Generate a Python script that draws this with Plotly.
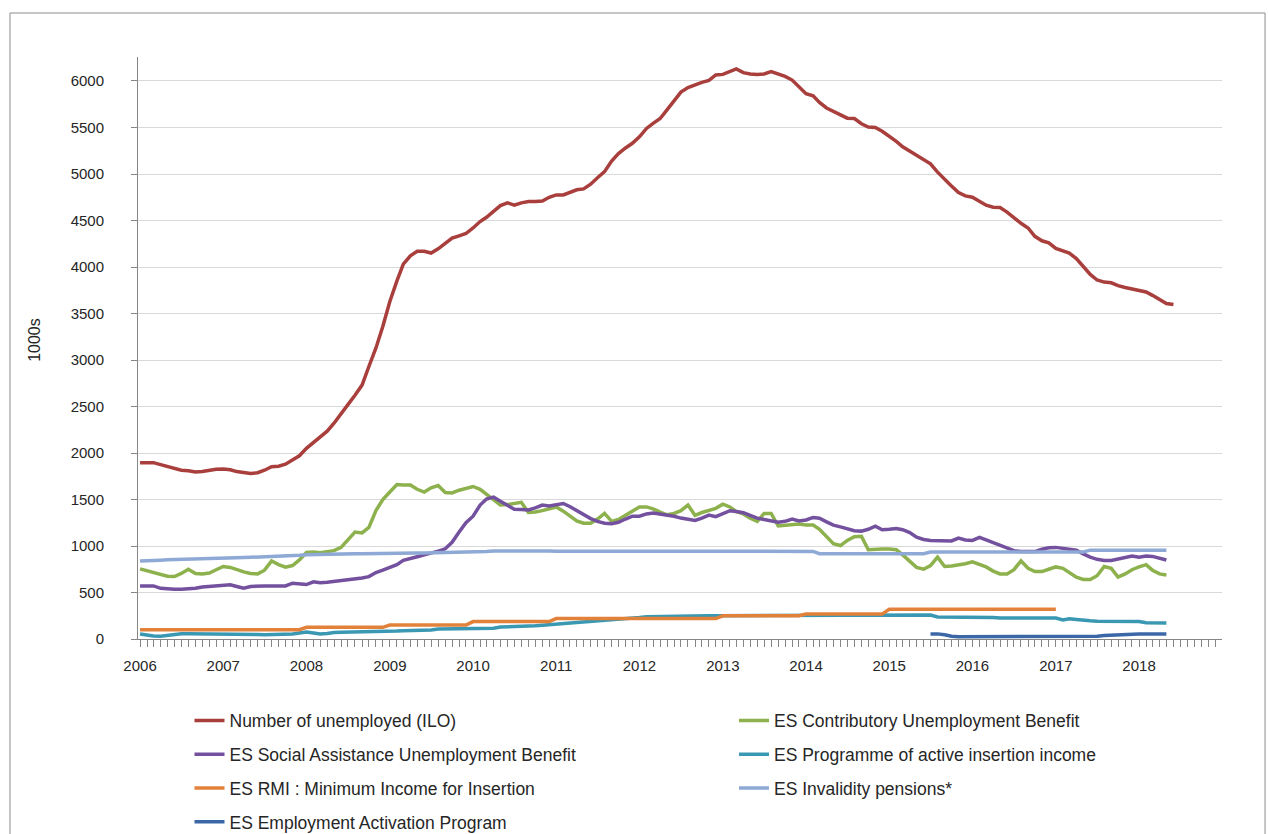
import pandas as pd
import plotly.graph_objects as go

# monthly values in thousands, one row per year
unemployed_ilo = [
    1895, 1896, 1896, 1875, 1853, 1833, 1815, 1810, 1795, 1800, 1815, 1825,
    1828, 1820, 1800, 1792, 1780, 1788, 1815, 1853, 1858, 1880, 1925, 1970,
    2050, 2110, 2170, 2235, 2320, 2415, 2520, 2620, 2730, 2930, 3130, 3360,
    3630, 3850, 4030, 4120, 4170, 4170, 4150, 4195, 4250, 4310, 4335, 4360,
    4420, 4489, 4535, 4600, 4660, 4690, 4665, 4690, 4704, 4704, 4710, 4750,
    4775, 4775, 4800, 4830, 4840, 4890, 4960, 5025, 5140, 5220, 5280, 5330,
    5400, 5490, 5545, 5596, 5690, 5790, 5880, 5930, 5960, 5985, 6007, 6065,
    6071, 6100, 6130, 6090, 6075, 6071, 6075, 6100, 6075, 6050, 6010, 5940,
    5864, 5840, 5770, 5710, 5675, 5635, 5600, 5596, 5540, 5505, 5500, 5460,
    5410, 5350, 5293, 5245, 5200, 5160, 5110, 5020, 4940, 4871, 4800, 4764,
    4750, 4710, 4665, 4643, 4639, 4590, 4530, 4470, 4420, 4330, 4282, 4260,
    4200, 4175, 4150, 4090, 4000, 3920, 3860, 3838, 3830, 3800, 3780, 3765,
    3750, 3732, 3695, 3650, 3607, 3596,
]

contributory = [
    754, 735, 710, 690, 675, 672, 705, 750, 705, 700, 710, 745,
    780, 770, 745, 722, 705, 700, 740, 840, 800, 772, 790, 850,
    930, 935, 928, 935, 950, 985, 1065, 1150, 1140, 1200, 1380, 1500,
    1580, 1660, 1655, 1655, 1610, 1580, 1625, 1650, 1575, 1570, 1600, 1615,
    1640, 1610, 1560, 1500, 1440, 1445, 1455, 1470, 1360, 1365, 1380, 1400,
    1420, 1375, 1320, 1270, 1245, 1245, 1290, 1350, 1265, 1285, 1330, 1375,
    1420, 1420, 1400, 1365, 1335, 1350, 1380, 1440, 1330, 1360, 1380, 1405,
    1450, 1420, 1370, 1345, 1300, 1265, 1350, 1350, 1215, 1220, 1230, 1236,
    1225, 1225, 1180, 1100, 1025, 1005, 1060, 1100, 1105, 960, 968, 968,
    968, 960, 904, 830, 770, 750, 790, 880, 780, 785, 795, 810,
    830, 805, 775, 730, 700, 700, 745, 840, 760, 725, 725, 750,
    775, 760, 710, 665, 640, 640, 680, 780, 760, 665, 700, 745,
    775, 800, 740, 700, 689,
]

social_assistance = [
    571, 571, 571, 545, 536, 536, 536, 536, 545, 560, 564, 568,
    571, 582, 565, 546, 565, 571, 571, 571, 571, 571, 600, 590,
    585, 615, 605, 610, 618, 625, 632, 640, 655, 671, 715, 740,
    765, 800, 845, 870, 885, 905, 921, 945, 970, 1040, 1150, 1250,
    1320, 1440, 1505, 1525, 1480, 1440, 1395, 1393, 1388, 1410, 1440, 1430,
    1440, 1457, 1425, 1380, 1330, 1295, 1265, 1245, 1240, 1255, 1290, 1321,
    1321, 1345, 1355, 1343, 1335, 1320, 1300, 1290, 1275, 1300, 1332, 1315,
    1345, 1379, 1370, 1358, 1330, 1300, 1285, 1270, 1255, 1265, 1290, 1270,
    1280, 1307, 1298, 1260, 1225, 1205, 1185, 1165, 1160, 1180, 1214, 1175,
    1180, 1189, 1175, 1145, 1095, 1070, 1058, 1054, 1054, 1054, 1085, 1065,
    1060, 1093, 1065, 1035, 1000, 970, 950, 940, 939, 940, 965, 980,
    985, 978, 970, 955, 915, 880, 857, 845, 845, 860, 879, 893,
    880, 893, 888, 870, 850,
]

active_insertion = [
    54, 40, 32, 30, 40, 55, 57, 57, 57, 57, 57, 57,
    57, 57, 57, 57, 57, 48, 46, 46, 48, 50, 55, 65,
    75, 65, 54, 60, 71, 72, 73, 74, 75, 75, 75, 75,
    75, 85, 89, 89, 89, 89, 98, 107, 107, 107, 107, 107,
    107, 107, 107, 115, 129, 131, 131, 129, 136, 142, 148, 154,
    158, 162, 164, 172, 182, 188, 195, 200, 205, 207, 212, 220,
    232, 240, 242, 244, 246, 248, 248, 248, 248, 250, 250, 250,
    250, 250, 250, 250, 250, 250, 250, 252, 252, 252, 252, 252,
    252, 252, 252, 252, 252, 257, 257, 257, 257, 257, 257, 257,
    257, 258, 258, 258, 258, 258, 258, 236, 236, 236, 236, 236,
    236, 236, 236, 230, 225, 225, 225, 225, 225, 225, 225, 225,
    225, 205, 218, 210, 200, 195, 190, 189, 189, 189, 189, 189,
    189, 175, 171, 171, 171,
]

rmi = [
    100, 100, 100, 100, 100, 100, 100, 100, 100, 100, 100, 100,
    100, 100, 100, 100, 100, 100, 100, 100, 100, 100, 100, 100,
    125, 125, 125, 125, 125, 125, 125, 125, 125, 125, 125, 125,
    150, 150, 150, 150, 150, 150, 150, 150, 150, 150, 150, 150,
    187, 187, 187, 187, 187, 187, 187, 187, 187, 187, 187, 187,
    220, 220, 220, 220, 220, 220, 220, 220, 220, 220, 220, 220,
    220, 220, 220, 220, 220, 220, 220, 220, 220, 220, 220, 220,
    250, 250, 250, 250, 250, 250, 250, 250, 250, 250, 250, 250,
    268, 268, 268, 268, 268, 268, 268, 268, 268, 268, 268, 268,
    320, 320, 320, 320, 320, 320, 320, 320, 320, 320, 320, 320,
    320, 320, 320, 320, 320, 320, 320, 320, 320, 320, 320, 320,
    320,
]

invalidity = [
    840, 840, 845, 848, 852, 855, 858, 860, 862, 865, 866, 868,
    870, 872, 875, 876, 878, 880, 882, 884, 886, 890, 895, 900,
    905, 908, 910, 912, 914, 915, 916, 917, 918, 920, 920, 921,
    922, 923, 924, 925, 926, 926, 927, 928, 928, 929, 929, 930,
    930, 932, 940, 945, 946, 946, 946, 946, 946, 946, 946, 946,
    944, 944, 944, 944, 944, 944, 944, 944, 944, 944, 944, 944,
    942, 942, 942, 942, 942, 942, 942, 942, 942, 942, 942, 942,
    942, 942, 942, 942, 942, 942, 942, 942, 942, 942, 942, 942,
    942, 942, 918, 918, 918, 918, 918, 918, 918, 918, 918, 918,
    918, 918, 918, 918, 918, 918, 935, 935, 935, 935, 935, 935,
    935, 935, 935, 935, 935, 935, 935, 935, 935, 935, 935, 935,
    935, 935, 935, 935, 935, 955, 955, 955, 955, 955, 955, 955,
    955, 955, 955, 955, 955,
]

# starts July 2015
activation = [
    55, 55, 45, 30, 25, 25,
    25, 25, 25, 25, 25, 25, 25, 25, 25, 25, 25, 25,
    25, 25, 25, 25, 25, 25, 30, 38, 42, 50, 54, 54,
    54, 54, 54, 54, 54,
]

FONT = "Liberation Sans, Arial, sans-serif"
TEXT = "#262626"
AXIS = "#868686"

# drawing order follows the original workbook (later series on top)
series = [
    ("Number of unemployed (ILO)", unemployed_ilo, "2006-01-01", "#A93F3C", "legend"),
    ("ES Contributory Unemployment Benefit", contributory, "2006-01-01", "#8DB14D", "legend2"),
    ("ES Social Assistance Unemployment Benefit", social_assistance, "2006-01-01", "#74519F", "legend"),
    ("ES Programme of active insertion income", active_insertion, "2006-01-01", "#3A98B2", "legend2"),
    ("ES RMI : Minimum Income for Insertion", rmi, "2006-01-01", "#E2813A", "legend"),
    ("ES Invalidity pensions*", invalidity, "2006-01-01", "#8EA9D5", "legend2"),
    ("ES Employment Activation Program", activation, "2015-07-01", "#3B67A6", "legend"),
]

fig = go.Figure()
for name, values, start, color, legend in series:
    dates = pd.date_range(start, periods=len(values), freq="MS")
    fig.add_trace(
        go.Scatter(
            x=dates,
            y=values,
            name=name,
            mode="lines",
            line=dict(color=color, width=3.5),
            legend=legend,
            legendgroup=name,
        )
    )

# legend y is in container coords so the legend doesn't squeeze the plot area
legend_style = dict(
    xref="paper",
    yref="container",
    xanchor="left",
    yanchor="top",
    y=0.1575,
    traceorder="grouped",
    tracegroupgap=8,
    bgcolor="rgba(0,0,0,0)",
    font=dict(family=FONT, size=17.5, color=TEXT),
)

fig.update_layout(
    width=1268,
    height=834,
    margin=dict(l=138, r=46, t=57, b=195),
    paper_bgcolor="white",
    plot_bgcolor="white",
    font=dict(family=FONT, size=15, color=TEXT),
    showlegend=True,
    legend=dict(x=0.0475, **legend_style),
    legend2=dict(x=0.5498, **legend_style),
)

fig.update_xaxes(
    type="date",
    range=["2005-12-23", "2018-12-31"],
    tick0="2006-01-01",
    dtick="M12",
    tickformat="%Y",
    ticks="outside",
    ticklen=7,
    tickcolor=AXIS,
    ticklabelstandoff=6,
    showline=True,
    linecolor=AXIS,
    showgrid=False,
    zeroline=False,
    minor=dict(
        tick0="2006-01-01",
        dtick="M1",
        ticks="outside",
        ticklen=7,
        tickcolor=AXIS,
        showgrid=False,
    ),
)

fig.update_yaxes(
    range=[0, 6258],
    tick0=0,
    dtick=500,
    ticks="outside",
    ticklen=6,
    tickcolor=AXIS,
    ticklabelstandoff=24,
    showline=True,
    linecolor=AXIS,
    gridcolor="#D9D9D9",
    zeroline=False,
)

fig.add_annotation(
    text="1000s",
    textangle=-90,
    xref="paper",
    yref="paper",
    x=-0.095,
    y=0.514,
    xanchor="center",
    yanchor="middle",
    showarrow=False,
    font=dict(family=FONT, size=16, color=TEXT),
)

# outer chart border
fig.add_shape(
    type="rect",
    xref="paper",
    yref="paper",
    x0=-0.1181,
    x1=1.0397,
    y0=-0.345,
    y1=1.0756,
    line=dict(color="#8C8C8C", width=1),
    layer="below",
)

fig.write_html(
    "out.html",
    config={"displayModeBar": False},
    post_script="document.body.style.margin='0';",
)
